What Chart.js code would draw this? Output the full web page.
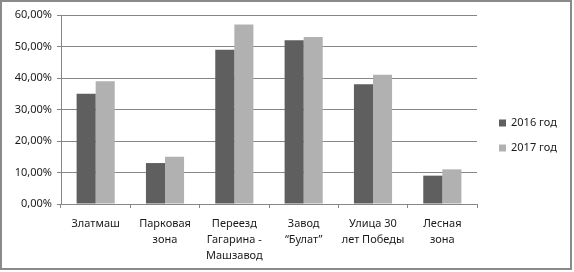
<!DOCTYPE html>
<html><head><meta charset="utf-8">
<script src="https://cdn.jsdelivr.net/npm/chart.js@4"></script>
<style>html,body{margin:0;padding:0;background:#fff;}#wrap{position:absolute;left:0;top:0;width:574px;height:272px;}</style>
</head><body><div id="wrap"><canvas id="c" width="574" height="272"></canvas></div>
<script>
const categories = [["Златмаш"],["Парковая","зона"],["Переезд","Гагарина -","Машзавод"],["Завод","“Булат”"],["Улица 30","лет Победы"],["Лесная","зона"]];
const series2016 = [35, 13, 49, 52, 38, 9];
const series2017 = [39, 15, 57, 53, 41, 11];
const seriesNames = ["2016 год", "2017 год"];
const yTicks = [0, 10, 20, 30, 40, 50, 60];
const colors = ["#5f5f5f", "#b1b1b1"];
const FONT = "'Noto Sans', sans-serif";

const frame = {
  id: 'frame',
  afterDraw(chart) {
    const ctx = chart.ctx;
    ctx.save();
    ctx.strokeStyle = '#8a8a8a';
    ctx.lineWidth = 2;
    ctx.strokeRect(1, 1, 570, 268);
    ctx.font = "11px " + FONT;
    ctx.textBaseline = 'middle';
    chart.data.datasets.forEach((ds, i) => {
      const y = 123 + i * 25;
      ctx.fillStyle = ds.backgroundColor;
      ctx.fillRect(499, y - 3.5, 7, 7);
      ctx.fillStyle = '#1a1a1a';
      ctx.fillText(ds.label, 511, y);
    });
    ctx.restore();
  }
};

new Chart(document.getElementById('c'), {
  type: 'bar',
  data: {
    labels: categories,
    datasets: [
      { label: seriesNames[0], data: series2016, backgroundColor: colors[0] },
      { label: seriesNames[1], data: series2017, backgroundColor: colors[1] }
    ]
  },
  options: {
    responsive: false,
    animation: false,
    devicePixelRatio: 1,
    layout: { padding: { left: 0, right: 97, top: 15, bottom: 0 } },
    categoryPercentage: 0.55,
    barPercentage: 1,
    plugins: { legend: { display: false }, tooltip: { enabled: false } },
    scales: {
      x: {
        afterFit(s) { s.height = 68; },
        grid: { offset: true, drawOnChartArea: false, drawTicks: true, tickLength: 4, color: '#868686' },
        border: { color: '#868686' },
        ticks: { font: { family: FONT, size: 11, lineHeight: 1.45 }, color: '#1a1a1a', padding: 8, maxRotation: 0, autoSkip: false }
      },
      y: {
        min: 0, max: 60,
        afterFit(s) { s.width = 61; },
        afterBuildTicks(s) { s.ticks = yTicks.map(v => ({ value: v })); },
        grid: { color: '#868686', tickLength: 4 },
        border: { color: '#868686' },
        ticks: { font: { family: FONT, size: 11 }, color: '#1a1a1a', padding: 5,
          callback: v => v.toFixed(2).replace('.', ',') + '%' }
      }
    }
  },
  plugins: [frame]
});
</script></body></html>
